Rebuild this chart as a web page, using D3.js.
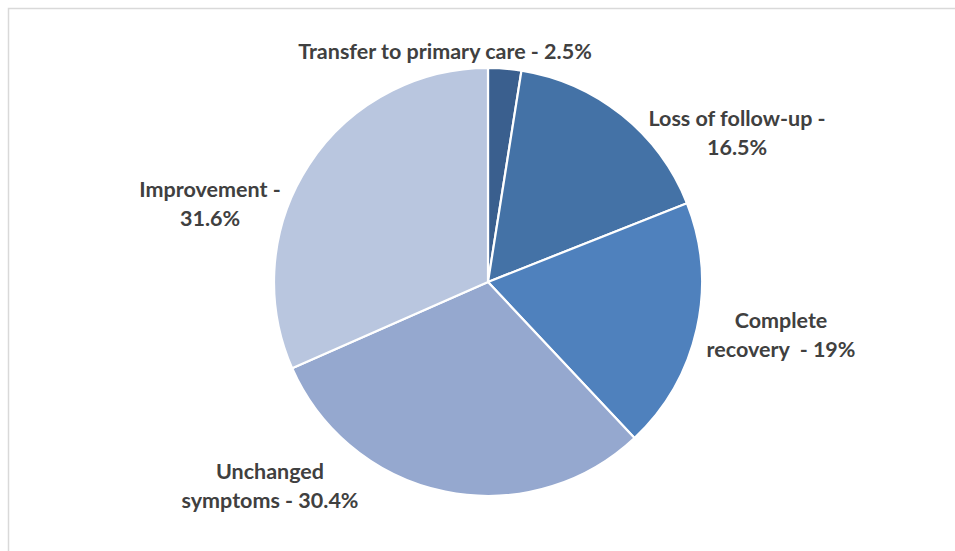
<!DOCTYPE html>
<html>
<head>
<meta charset="utf-8">
<script src="https://cdn.jsdelivr.net/npm/d3@7.9.0/dist/d3.min.js"></script>
<style>
  html, body { margin: 0; padding: 0; background: #fff; }
  svg { display: block; }
  .lbl { font-family: Lato, "Open Sans", sans-serif; font-weight: 700; fill: #404040; white-space: pre; }
</style>
</head>
<body>
<svg id="chart" width="955" height="551"></svg>
<script>
// ---- data ----
const categories = ['Transfer to primary care', 'Loss of follow-up', 'Complete recovery', 'Unchanged symptoms', 'Improvement'];
const shares = [2.5, 16.5, 19, 30.4, 31.6];
const labelLines = [
  ['Transfer to primary care - 2.5%'],
  ['Loss of follow-up -', '16.5%'],
  ['Complete', 'recovery  - 19%'],
  ['Unchanged', 'symptoms - 30.4%'],
  ['Improvement -', '31.6%'],
];
const colors = ['#3a5f8e', '#4472a6', '#4f81bd', '#95a8cf', '#b9c6df'];

// label placement relative to pie centre (layout only): x of text centre, baseline of first line
const labelOffset = [[-43, -223], [249, -156], [293, 46], [-218, 197], [-278, -85]];

const W = 955, H = 551;
const cx = 488, cy = 282, R = 214;

const svg = d3.select('#chart');

// frame
svg.append('path')
  .attr('d', `M8.5,${H}V8.5H${W}`)
  .attr('fill', 'none')
  .attr('stroke', '#d9d9d9')
  .attr('stroke-width', 1.5);

const pie = d3.pie().sort(null).value(d => d)(shares);
const arc = d3.arc().innerRadius(0).outerRadius(R);

const g = svg.append('g').attr('transform', `translate(${cx},${cy})`);

g.selectAll('path.slice')
  .data(pie)
  .join('path')
  .attr('class', 'slice')
  .attr('d', arc)
  .attr('fill', (d, i) => colors[i])
  .attr('stroke', '#fff')
  .attr('stroke-width', 2.2)
  .attr('stroke-linejoin', 'round');

const fs = 21.5, lh = 29;
const labels = g.selectAll('text.lbl')
  .data(labelLines)
  .join('text')
  .attr('class', 'lbl')
  .attr('text-anchor', 'middle')
  .attr('font-size', fs)
  .attr('transform', (d, i) => `translate(${labelOffset[i][0]},${labelOffset[i][1]})`);

labels.selectAll('tspan')
  .data(d => d)
  .join('tspan')
  .attr('x', 0)
  .attr('dy', (d, j) => j === 0 ? 0 : lh)
  .text(d => d);
</script>
</body>
</html>
